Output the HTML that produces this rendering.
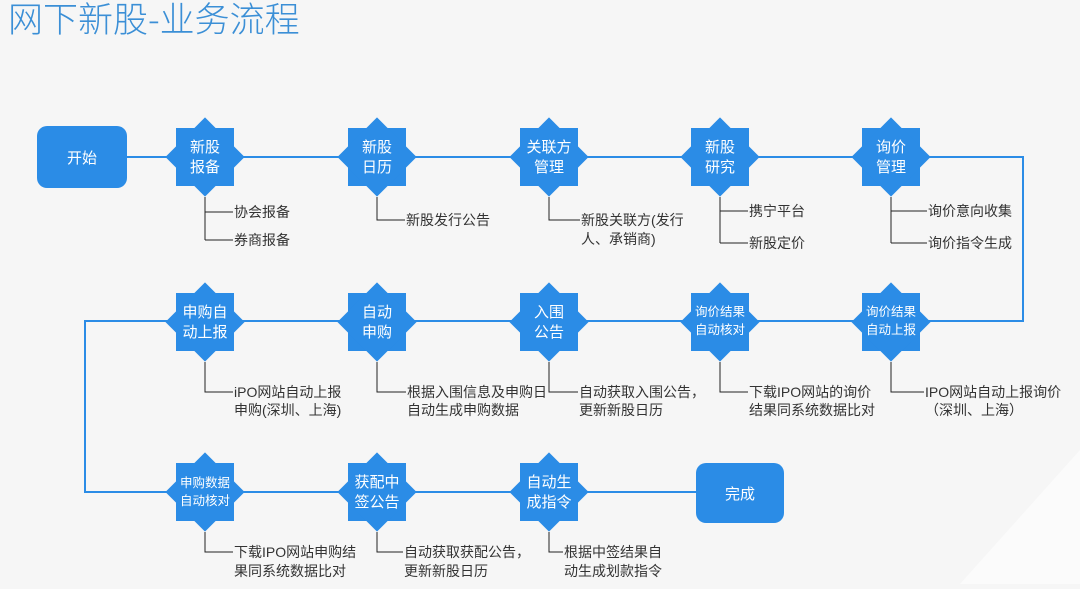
<!DOCTYPE html>
<html><head><meta charset="utf-8"><style>
body{margin:0;width:1080px;height:584px;overflow:hidden;background:#f6f6f6;font-family:"Liberation Sans","Noto Sans CJK SC",sans-serif}
</style></head><body>
<svg width="1080" height="584" xmlns="http://www.w3.org/2000/svg" font-family="Liberation Sans, Noto Sans CJK SC, sans-serif">
<rect width="1080" height="584" fill="#f6f6f6"/>
<polygon points="960,584 1080,450 1080,584" fill="#fbfbfb"/>
<text x="8" y="32" font-size="35" fill="#3b8fd6" font-family="Noto Sans CJK SC, sans-serif" font-weight="300">网下新股-业务流程</text>
<g stroke="#2b8ce6" stroke-width="2" fill="none">
<polyline points="127,157 1023,157 1023,321 85,321 85,492 696,492"/>
</g>
<g stroke="#222" stroke-width="1" fill="none">
<path d="M205,197V240M205,212H233M205,240H233"/>
<path d="M377,197V220H405"/>
<path d="M549,197V220H580"/>
<path d="M720,197V243M720,211H748M720,243H748"/>
<path d="M891,197V243M891,211H927M891,243H927"/>
<path d="M205,362V392H233"/>
<path d="M377,362V392H406"/>
<path d="M549,362V392H578"/>
<path d="M720,362V392H748"/>
<path d="M891,362V392H924"/>
<path d="M205,532V552H233"/>
<path d="M377,532V552H403"/>
<path d="M549,532V552H563"/>
</g>
<rect x="37" y="126" width="90" height="62" rx="10" fill="#2b8ce6"/>
<text x="82" y="163" font-size="15" fill="#fff" text-anchor="middle">开始</text>
<rect x="696" y="463" width="88" height="60" rx="10" fill="#2b8ce6"/>
<text x="740" y="499" font-size="15" fill="#fff" text-anchor="middle">完成</text>
<defs><g id="s"><rect x="-29" y="-29" width="58" height="58" fill="#2b8ce6"/><rect x="-28" y="-28" width="56" height="56" fill="#2b8ce6" transform="rotate(45)"/></g></defs>
<g fill="#fff" text-anchor="middle" font-size="15">
<use href="#s" x="205" y="157"/><text x="205" y="152">新股</text><text x="205" y="172">报备</text>
<use href="#s" x="377" y="157"/><text x="377" y="152">新股</text><text x="377" y="172">日历</text>
<use href="#s" x="549" y="157"/><text x="549" y="152">关联方</text><text x="549" y="172">管理</text>
<use href="#s" x="720" y="157"/><text x="720" y="152">新股</text><text x="720" y="172">研究</text>
<use href="#s" x="891" y="157"/><text x="891" y="152">询价</text><text x="891" y="172">管理</text>
<use href="#s" x="205" y="322"/><text x="205" y="317">申购自</text><text x="205" y="337">动上报</text>
<use href="#s" x="377" y="322"/><text x="377" y="317">自动</text><text x="377" y="337">申购</text>
<use href="#s" x="549" y="322"/><text x="549" y="317">入围</text><text x="549" y="337">公告</text>
<use href="#s" x="720" y="322"/><text x="720" y="316" font-size="12.5">询价结果</text><text x="720" y="334" font-size="12.5">自动核对</text>
<use href="#s" x="891" y="322"/><text x="891" y="316" font-size="12.5">询价结果</text><text x="891" y="334" font-size="12.5">自动上报</text>
<use href="#s" x="205" y="492"/><text x="205" y="487" font-size="12.5">申购数据</text><text x="205" y="505" font-size="12.5">自动核对</text>
<use href="#s" x="377" y="492"/><text x="377" y="487">获配中</text><text x="377" y="507">签公告</text>
<use href="#s" x="549" y="492"/><text x="549" y="487">自动生</text><text x="549" y="507">成指令</text>
</g>
<g fill="#333" font-size="14">
<text x="234" y="217">协会报备</text><text x="234" y="245">券商报备</text>
<text x="406" y="225">新股发行公告</text>
<text x="581" y="225">新股关联方(发行</text><text x="581" y="244">人、承销商)</text>
<text x="749" y="216">携宁平台</text><text x="749" y="248">新股定价</text>
<text x="928" y="216">询价意向收集</text><text x="928" y="248">询价指令生成</text>
<text x="234" y="397">iPO网站自动上报</text><text x="234" y="415">申购(深圳、上海)</text>
<text x="407" y="397">根据入围信息及申购日</text><text x="407" y="415">自动生成申购数据</text>
<text x="579" y="397">自动获取入围公告，</text><text x="579" y="415">更新新股日历</text>
<text x="749" y="397">下载IPO网站的询价</text><text x="749" y="415">结果同系统数据比对</text>
<text x="925" y="397">IPO网站自动上报询价</text><text x="925" y="415">（深圳、上海）</text>
<text x="234" y="557">下载IPO网站申购结</text><text x="234" y="576">果同系统数据比对</text>
<text x="404" y="557">自动获取获配公告，</text><text x="404" y="576">更新新股日历</text>
<text x="564" y="557">根据中签结果自</text><text x="564" y="576">动生成划款指令</text>
</g>
</svg>
</body></html>
